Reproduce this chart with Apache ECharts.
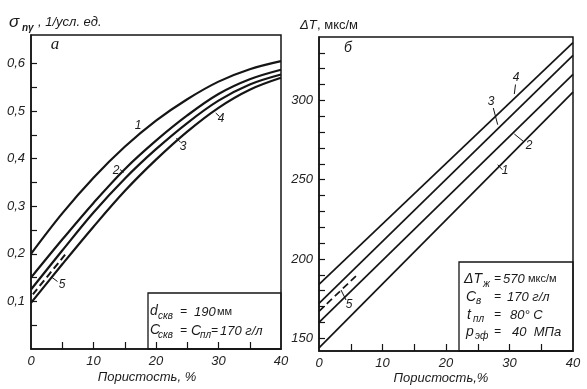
<!DOCTYPE html>
<html><head><meta charset="utf-8">
<script src="https://cdn.jsdelivr.net/npm/echarts@6/dist/echarts.min.js"></script>
<style>html,body{margin:0;padding:0;background:#fff}#c{width:587px;height:389px}</style>
</head><body><div id="c"></div>
<script>
// ---- Data: panel а (sigma vs porosity) ----
const porosity = [0, 5, 10, 15, 20, 25, 30, 35, 40];
const sigmaCurve1 = [0.200, 0.285, 0.360, 0.425, 0.480, 0.525, 0.562, 0.588, 0.605];
const sigmaCurve2 = [0.150, 0.230, 0.307, 0.378, 0.438, 0.491, 0.536, 0.567, 0.587];
const sigmaCurve3 = [0.125, 0.207, 0.287, 0.358, 0.420, 0.475, 0.522, 0.556, 0.577];
const sigmaCurve4 = [0.097, 0.178, 0.257, 0.332, 0.398, 0.457, 0.507, 0.545, 0.570];
const sigmaDashX = [0.3, 5.5];
const sigmaCurve5 = [0.115, 0.199];
const sigmaTickVals = [0.05, 0.1, 0.15, 0.2, 0.25, 0.3, 0.35, 0.4, 0.45, 0.5, 0.55, 0.6];
const sigmaLabelVals = [0.1, 0.2, 0.3, 0.4, 0.5, 0.6];

// ---- Data: panel б (ΔT vs porosity) ----
const dtX = [0, 40];
const dtLine1 = [144, 305.3];
const dtLine2 = [160, 316.4];
const dtLine3 = [172, 328.4];
const dtLine4 = [184, 336.5];
const dtDashX = [0, 6];
const dtLine5 = [167, 190];
const dtTickVals = [150, 160, 170, 180, 190, 200, 210, 220, 230, 240, 250, 260, 270, 280, 290, 300, 310, 320, 330];
const dtLabelVals = [150, 200, 250, 300];

const xTickVals = [5, 10, 15, 20, 25, 30, 35];
const xLabelVals = [0, 10, 20, 30, 40];

const INK = '#151515';
const FONT = "'Liberation Sans', Arial, sans-serif";
const zip = (xs, ys) => xs.map((x, i) => [x, ys[i]]);

function xAxis(gi) {
  return {
    type: 'value', gridIndex: gi, min: 0, max: 40,
    axisLine: { show: true, lineStyle: { color: INK, width: 1.5 } },
    axisTick: { show: true, inside: true, length: 7, customValues: xTickVals, lineStyle: { color: INK, width: 1.2 } },
    axisLabel: { customValues: xLabelVals, margin: 6, fontFamily: FONT, fontStyle: 'italic', fontSize: 13, color: '#222' },
    splitLine: { show: false }
  };
}

function curve(xi, x, y, dashed, w) {
  return {
    type: 'line', xAxisIndex: xi, yAxisIndex: xi, data: zip(x, y),
    showSymbol: false, symbol: 'none', smooth: 0.35, silent: true,
    lineStyle: { color: INK, width: w, type: dashed ? [7, 4] : 'solid' }
  };
}

function txt(x, y, s, size, opts) {
  return { type: 'text', x: x, y: y, style: Object.assign({
    text: s, fill: '#1a1a1a', font: 'italic ' + size + 'px ' + FONT, textAlign: 'left', textVerticalAlign: 'middle'
  }, opts || {}) };
}
function seg(x1, y1, x2, y2) {
  return { type: 'line', shape: { x1: x1, y1: y1, x2: x2, y2: y2 }, style: { stroke: INK, lineWidth: 1 } };
}
function box(x, y, w, h) {
  return { type: 'rect', shape: { x: x, y: y, width: w, height: h }, style: { fill: 'transparent', stroke: INK, lineWidth: 1.3 } };
}

const chart = echarts.init(document.getElementById('c'), null, { renderer: 'canvas' });
chart.setOption({
  animation: false,
  backgroundColor: '#fff',
  grid: [
    { left: 31, top: 35, width: 250, height: 314, show: true, borderColor: INK, borderWidth: 1.5, backgroundColor: 'transparent' },
    { left: 319, top: 37, width: 254, height: 314, show: true, borderColor: INK, borderWidth: 1.5, backgroundColor: 'transparent' }
  ],
  xAxis: [xAxis(0), xAxis(1)],
  yAxis: [
    { type: 'value', gridIndex: 0, min: 0, max: 0.66,
      axisLine: { show: true, lineStyle: { color: INK, width: 1.5 } },
      axisTick: { show: true, inside: true, length: 6, customValues: sigmaTickVals, lineStyle: { color: INK, width: 1.2 } },
      axisLabel: { customValues: sigmaLabelVals, margin: 6, fontFamily: FONT, fontStyle: 'italic', fontSize: 13, color: '#222',
        formatter: v => v.toFixed(1).replace('.', ',') },
      splitLine: { show: false } },
    { type: 'value', gridIndex: 1, min: 142, max: 340,
      axisLine: { show: true, lineStyle: { color: INK, width: 1.5 } },
      axisTick: { show: true, inside: true, length: 6, customValues: dtTickVals, lineStyle: { color: INK, width: 1.2 } },
      axisLabel: { customValues: dtLabelVals, margin: 6, fontFamily: FONT, fontStyle: 'italic', fontSize: 13, color: '#222' },
      splitLine: { show: false } }
  ],
  series: [
    curve(0, porosity, sigmaCurve1, false, 2.2),
    curve(0, porosity, sigmaCurve2, false, 2.2),
    curve(0, porosity, sigmaCurve3, false, 2.2),
    curve(0, porosity, sigmaCurve4, false, 2.2),
    curve(0, sigmaDashX, sigmaCurve5, true, 2),
    curve(1, dtX, dtLine1, false, 1.7),
    curve(1, dtX, dtLine2, false, 1.7),
    curve(1, dtX, dtLine3, false, 1.7),
    curve(1, dtX, dtLine4, false, 1.7),
    curve(1, dtDashX, dtLine5, true, 1.7)
  ],
  graphic: [
    // titles
    txt(9, 22, 'σ', 17),
    txt(22, 28, 'nγ', 10, { font: 'italic bold 10px ' + FONT }),
    txt(38, 22, ', 1/усл. ед.', 13),
    txt(300, 25, 'ΔT', 13),
    txt(317, 25, ', мкс/м', 13, { font: '13px ' + FONT }),
    txt(147, 377, 'Пористость, %', 13, { textAlign: 'center' }),
    txt(441, 378, 'Пористость,%', 13, { textAlign: 'center' }),
    // panel letters
    txt(55, 45, 'а', 16, { textAlign: 'center', font: 'italic 17px "Liberation Serif", serif' }),
    txt(348, 48, 'б', 14, { textAlign: 'center' }),
    // curve labels, panel а
    txt(138, 126, '1', 12, { textAlign: 'center' }),
    txt(116, 171, '2', 12, { textAlign: 'center' }), seg(120, 169.5, 123.5, 172.5),
    txt(183, 147, '3', 12, { textAlign: 'center' }), seg(176.3, 138, 180.7, 142.5),
    txt(221, 119, '4', 12, { textAlign: 'center' }), seg(215.7, 113, 219.5, 116.5),
    txt(62, 285, '5', 12, { textAlign: 'center' }), seg(51, 276.7, 57.5, 281.5),
    // curve labels, panel б
    txt(516, 78, '4', 12, { textAlign: 'center' }), seg(515.5, 84.5, 514.3, 94),
    txt(491, 102, '3', 12, { textAlign: 'center' }), seg(493.3, 108, 497.7, 124.7),
    txt(529, 146, '2', 12, { textAlign: 'center' }), seg(514.3, 134, 523.3, 141.3),
    txt(505, 171, '1', 12, { textAlign: 'center' }), seg(497.7, 164.7, 502.3, 169.7),
    txt(349, 305, '5', 12, { textAlign: 'center' }), seg(341, 290, 346, 300),
    // legend box, panel а
    box(148, 293, 133, 56),
    txt(150, 311, 'd', 14),
    txt(158, 316, 'скв', 10),
    txt(180, 312, '=', 12),
    txt(194, 312, '190', 13),
    txt(217, 312, 'мм', 11, { font: '11px ' + FONT }),
    txt(150, 330, 'C', 14),
    txt(158, 335, 'скв', 10),
    txt(180, 331, '=', 12),
    txt(191, 331, 'C', 14),
    txt(200, 335, 'пл', 10),
    txt(211, 331, '=', 12),
    txt(220, 331, '170 г/л', 13),
    // legend box, panel б
    box(459, 262, 114, 89),
    txt(464, 279, 'ΔT', 14),
    txt(483, 284, 'ж', 10),
    txt(494, 279, '=', 12),
    txt(503, 279, '570', 13),
    txt(528, 279, 'мкс/м', 11, { font: '11px ' + FONT }),
    txt(466, 297, 'C', 14),
    txt(476, 301, 'в', 10),
    txt(494, 297, '=', 12),
    txt(507, 297, '170 г/л', 13),
    txt(467, 315, 't', 14),
    txt(473, 319, 'пл', 10),
    txt(494, 315, '=', 12),
    txt(510, 315, '80° C', 13),
    txt(466, 332, 'p', 14),
    txt(475, 336, 'эф', 10),
    txt(494, 332, '=', 12),
    txt(512, 332, '40  МПа', 13)
  ]
});
</script></body></html>
